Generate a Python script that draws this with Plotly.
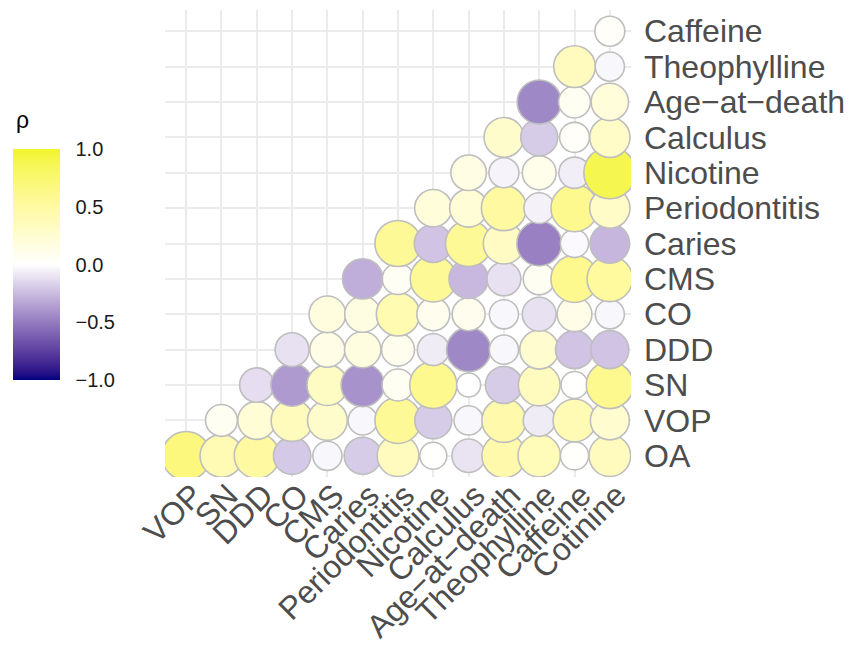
import numpy as np
import plotly.graph_objects as go

# Variables along each axis of the lower-triangular correlation plot
x_labels = ["VOP", "SN", "DDD", "CO", "CMS", "Caries", "Periodontitis", "Nicotine",
            "Calculus", "Age−at−death", "Theophylline", "Caffeine", "Cotinine"]
y_labels = ["OA", "VOP", "SN", "DDD", "CO", "CMS", "Caries", "Periodontitis",
            "Nicotine", "Calculus", "Age−at−death", "Theophylline", "Caffeine"]

# Spearman rho of each x-variable against the y-variables, listed from OA upward
rho_VOP = [0.68]
rho_SN = [0.40, 0.07]
rho_DDD = [0.50, 0.22, -0.12]
rho_CO = [-0.20, 0.36, -0.38, -0.11]
rho_CMS = [-0.03, 0.28, 0.32, 0.14, 0.18]
rho_Caries = [-0.19, -0.03, -0.41, 0.17, 0.16, -0.30]
rho_Periodontitis = [0.35, 0.55, 0.07, 0.09, 0.42, 0.06, 0.55]
rho_Nicotine = [0.01, -0.19, 0.60, -0.07, 0.09, 0.55, -0.22, 0.20]
rho_Calculus = [-0.10, -0.03, 0.00, -0.45, 0.09, -0.26, 0.55, 0.22, 0.15]
rho_Age = [0.45, 0.45, -0.19, -0.03, -0.03, -0.11, 0.33, 0.50, -0.04, 0.28]
rho_Theophylline = [0.38, -0.07, 0.35, 0.25, -0.11, 0.07, -0.48, -0.05, 0.11, -0.19, -0.45]
rho_Caffeine = [0.02, 0.40, 0.01, -0.22, 0.13, 0.60, -0.02, 0.60, -0.06, 0.04, 0.07, 0.35]
rho_Cotinine = [0.35, 0.25, 0.60, -0.22, -0.03, 0.52, -0.27, 0.30, 0.88, 0.30, 0.20, -0.03, 0.04]

columns = [rho_VOP, rho_SN, rho_DDD, rho_CO, rho_CMS, rho_Caries, rho_Periodontitis,
           rho_Nicotine, rho_Calculus, rho_Age, rho_Theophylline, rho_Caffeine, rho_Cotinine]

cbar_ticks = [-1.0, -0.5, 0.0, 0.5, 1.0]
cbar_text = ["−1.0", "−0.5", "0.0", "0.5", "1.0"]

# Long-format points, drawn row by row from the bottom
xs, ys, vals = [], [], []
for i in range(len(y_labels)):
    for j, col in enumerate(columns):
        if i < len(col):
            xs.append(j)
            ys.append(i)
            vals.append(col[i])
vals = np.array(vals)


# Diverging gradient interpolated in CIELAB (low -> mid -> high)
def _to_lab(hexc):
    rgb = np.array([int(hexc[k:k + 2], 16) for k in (1, 3, 5)]) / 255.0
    lin = np.where(rgb <= 0.04045, rgb / 12.92, ((rgb + 0.055) / 1.055) ** 2.4)
    m = np.array([[0.4124, 0.3576, 0.1805], [0.2126, 0.7152, 0.0722], [0.0193, 0.1192, 0.9505]])
    xyz = m @ lin / np.array([0.95047, 1.0, 1.08883])
    f = np.where(xyz > 0.008856, np.cbrt(xyz), 7.787 * xyz + 16 / 116)
    return np.array([116 * f[1] - 16, 500 * (f[0] - f[1]), 200 * (f[1] - f[2])])


def _from_lab(lab):
    fy = (lab[0] + 16) / 116
    fx = fy + lab[1] / 500
    fz = fy - lab[2] / 200
    f = np.array([fx, fy, fz])
    xyz = np.where(f ** 3 > 0.008856, f ** 3, (f - 16 / 116) / 7.787) * np.array([0.95047, 1.0, 1.08883])
    m = np.array([[3.2406, -1.5372, -0.4986], [-0.9689, 1.8758, 0.0415], [0.0557, -0.2040, 1.0570]])
    lin = np.clip(m @ xyz, 0, 1)
    rgb = np.where(lin <= 0.0031308, 12.92 * lin, 1.055 * lin ** (1 / 2.4) - 0.055)
    r, g, b = (np.clip(rgb, 0, 1) * 255).round().astype(int)
    return f"rgb({r},{g},{b})"


low, mid, high = _to_lab("#000080"), _to_lab("#FFFFFF"), _to_lab("#F2F52A")
colorscale = []
for t in np.linspace(0, 1, 41):
    if t <= 0.5:
        lab = low + (mid - low) * (t / 0.5)
    else:
        lab = mid + (high - mid) * ((t - 0.5) / 0.5)
    colorscale.append([float(t), _from_lab(lab)])

# Area-style size scale on |rho|
absv = np.abs(vals)
scaled = (absv - absv.min()) / (absv.max() - absv.min())
diam = 24 + 28 * np.sqrt(scaled)

font_family = "Liberation Sans, Arial, sans-serif"

# Panel geometry (pixels) used to place the legend in paper coordinates
PL, PR, PT, PB = 165, 631, 10, 477
pw, ph = PR - PL, PB - PT
bar_top, bar_bot = 149, 380

fig = go.Figure()
fig.add_trace(go.Scatter(
    x=xs, y=ys, mode="markers",
    marker=dict(
        size=diam, color=vals, colorscale=colorscale, cmin=-1, cmax=1,
        line=dict(color="#BEBEBE", width=1.6), opacity=1,
        colorbar=dict(
            xref="paper", yref="paper",
            x=(13 - PL) / pw, xanchor="left",
            y=(PB - (bar_top + bar_bot) / 2) / ph, yanchor="middle",
            len=(bar_bot - bar_top) / ph, lenmode="fraction",
            thickness=47, thicknessmode="pixels",
            outlinewidth=0, xpad=0, ypad=0,
            tickvals=cbar_ticks, ticktext=cbar_text,
            ticks="outside", ticklen=12, tickcolor="rgba(0,0,0,0)",
            tickfont=dict(size=20, color="#1A1A1A", family=font_family),
        ),
    ),
    hovertemplate="%{text}<extra></extra>",
    text=[f"{x_labels[a]} / {y_labels[b]}: {v:.2f}" for a, b, v in zip(xs, ys, vals)],
    showlegend=False,
))

fig.add_annotation(
    text="ρ", xref="paper", yref="paper",
    x=(14 - PL) / pw, y=(PB - 120) / ph, xanchor="left", yanchor="middle",
    showarrow=False, font=dict(size=23, color="#000000", family=font_family),
)

axis_common = dict(
    showgrid=True, gridcolor="#EBEBEB", gridwidth=2, zeroline=False,
    showline=False, ticks="", range=[-0.6, 12.6], fixedrange=True,
    automargin=False,
)

fig.update_layout(
    width=851, height=648,
    margin=dict(l=PL, r=851 - PR, t=PT, b=648 - PB, autoexpand=False),
    paper_bgcolor="#FFFFFF", plot_bgcolor="#FFFFFF",
    xaxis=dict(
        **axis_common, tickmode="array", tickvals=list(range(len(x_labels))),
        ticktext=x_labels, tickangle=-45, ticklabelshift=7, ticklabelstandoff=-8,
        tickfont=dict(size=32, color="#4D4D4D", family=font_family),
    ),
    yaxis=dict(
        **axis_common, tickmode="array", tickvals=list(range(len(y_labels))),
        ticktext=y_labels, side="right", ticklabelstandoff=12,
        tickfont=dict(size=32, color="#4D4D4D", family=font_family),
    ),
)

fig.write_html("out.html")
